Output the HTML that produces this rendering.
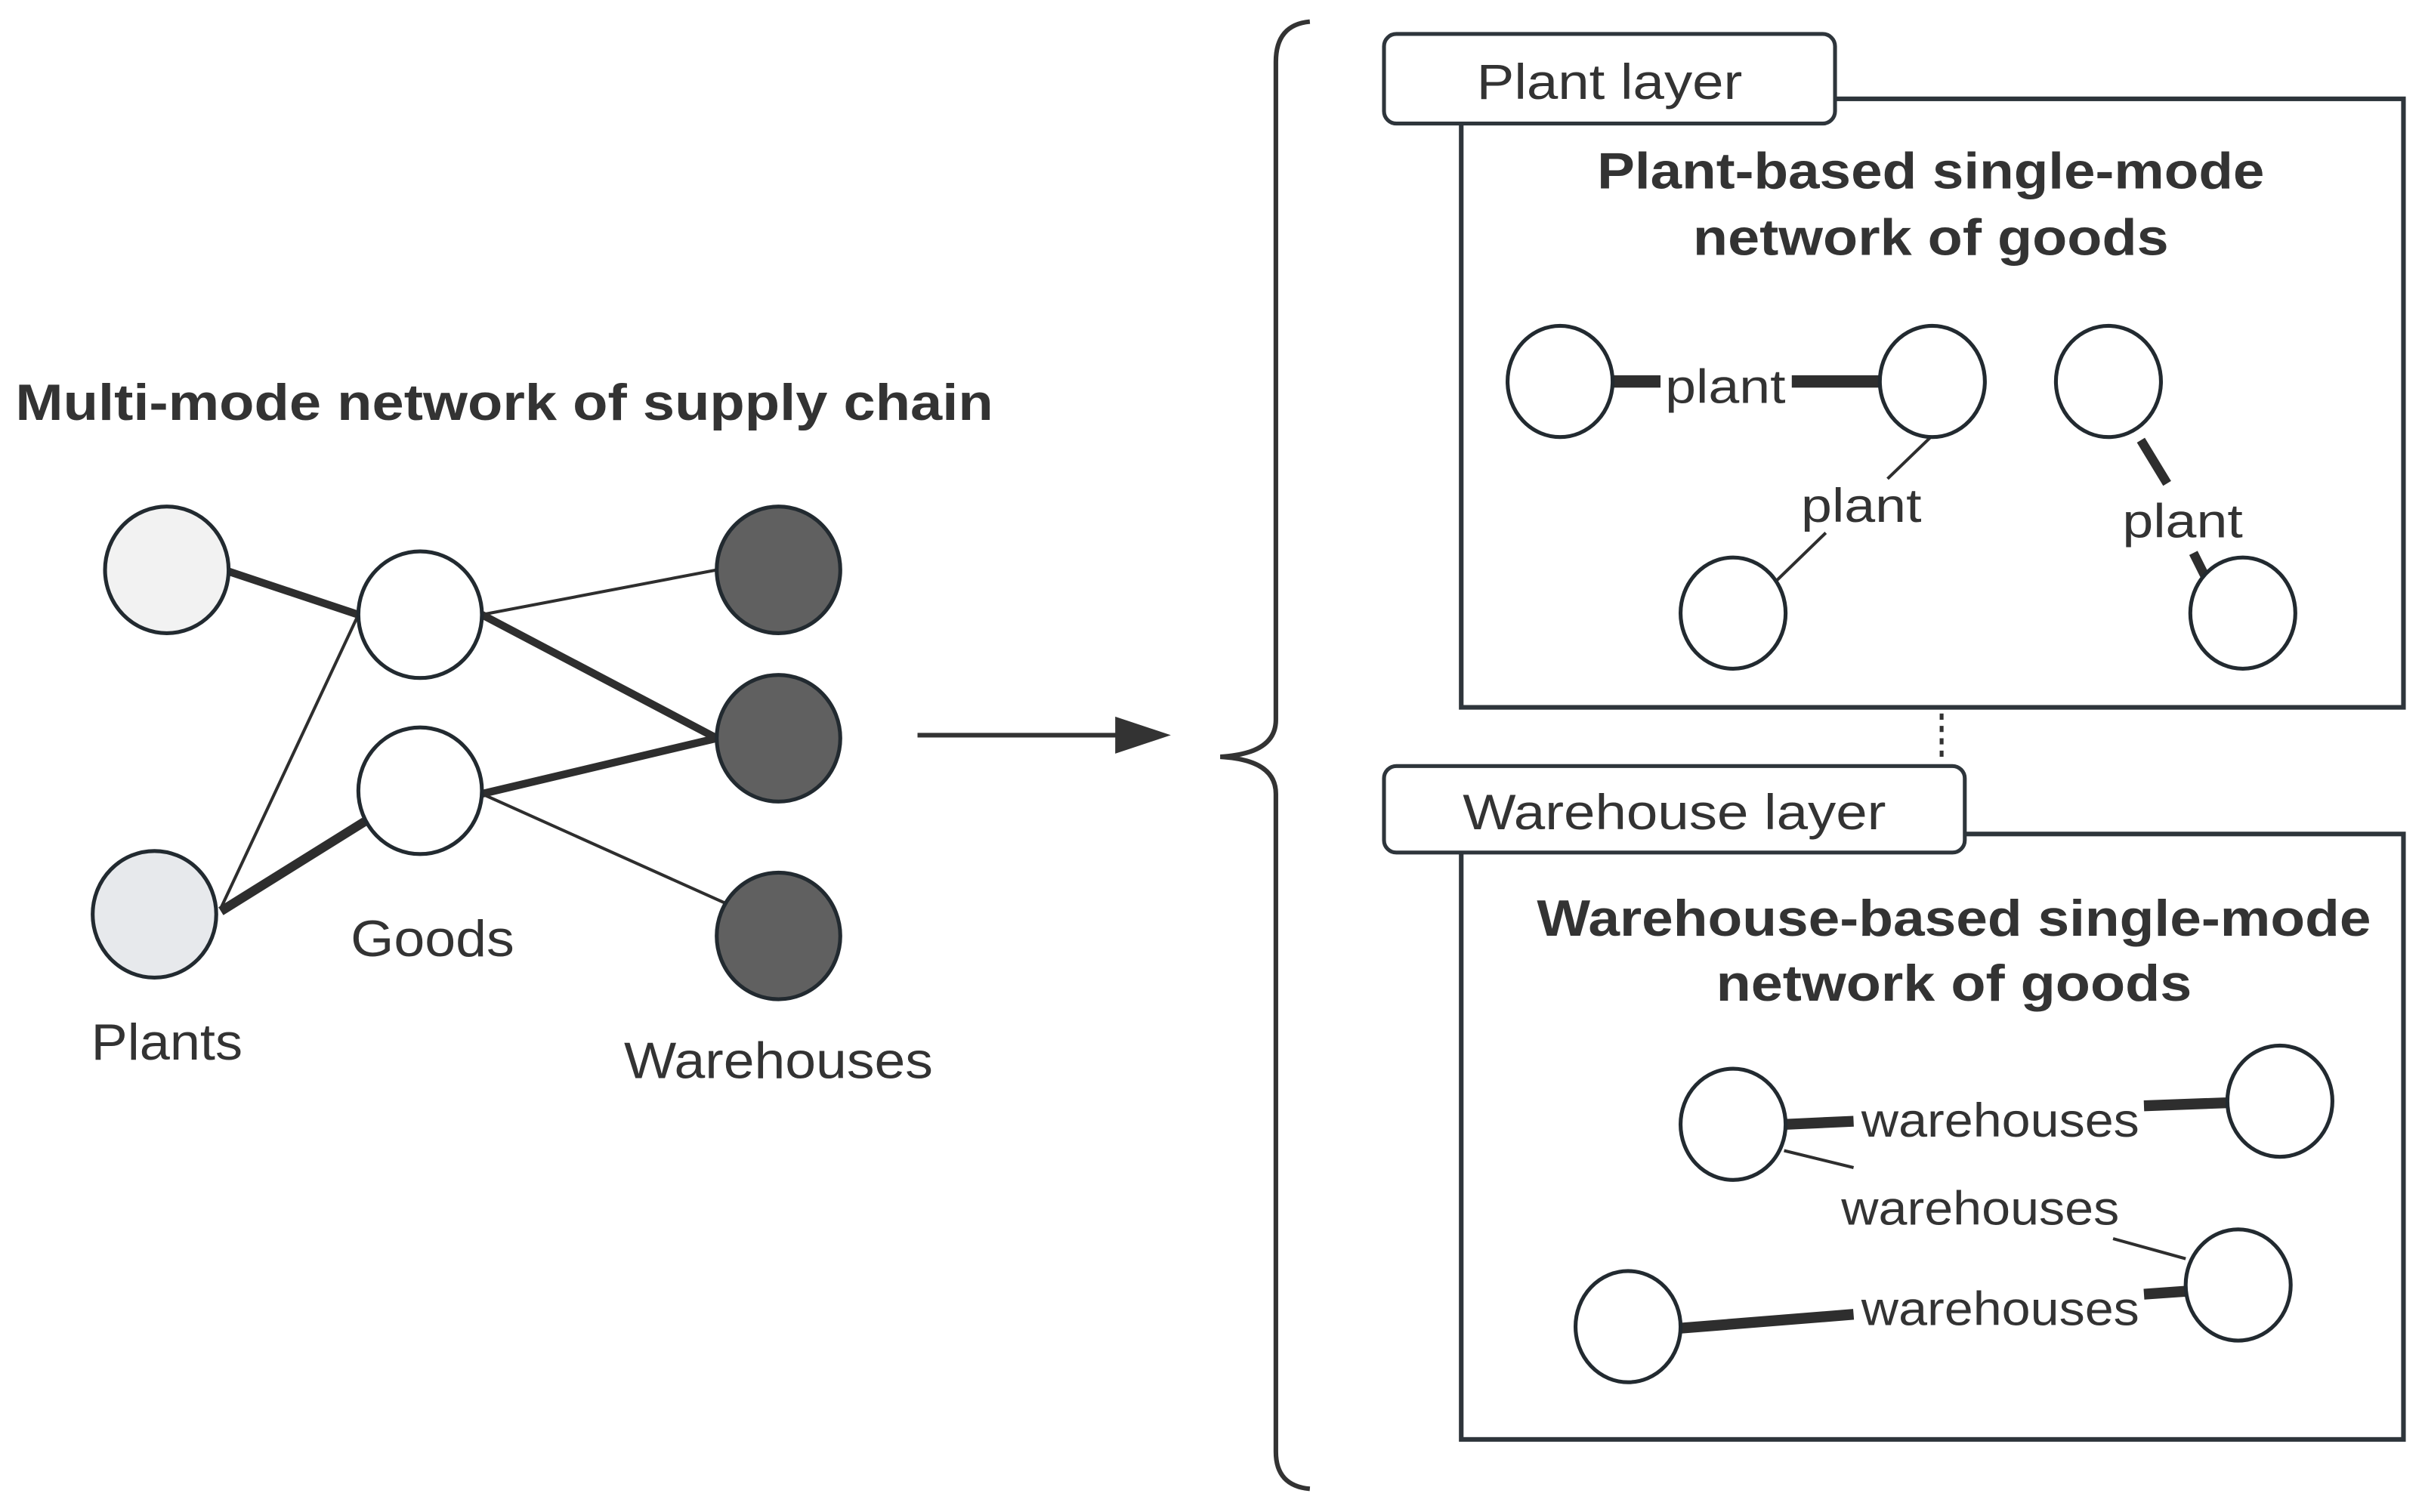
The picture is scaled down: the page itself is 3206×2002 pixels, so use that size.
<!DOCTYPE html>
<html><head><meta charset="utf-8"><style>
html,body{margin:0;padding:0;background:#fff;}
svg{display:block;}
text{font-family:"Liberation Sans",sans-serif;fill:#333;}
</style></head><body>
<svg width="3206" height="2002" viewBox="0 0 1568 979" preserveAspectRatio="none" xmlns="http://www.w3.org/2000/svg">
<g stroke="#2e2e2e" stroke-linecap="butt" fill="none">
<line x1="148" y1="370" x2="232" y2="398" stroke-width="5"/>
<line x1="143" y1="588" x2="232" y2="398" stroke-width="2"/>
<line x1="143" y1="590" x2="236" y2="532" stroke-width="6"/>
<line x1="312" y1="398" x2="464" y2="369" stroke-width="2"/>
<line x1="312" y1="398" x2="464" y2="478" stroke-width="5"/>
<line x1="312" y1="514" x2="464" y2="478" stroke-width="5"/>
<line x1="312" y1="514" x2="470" y2="585" stroke-width="2"/>
</g>
<g stroke="#222a30" stroke-width="2.5">
<ellipse cx="108" cy="369" rx="40" ry="41" fill="#f2f2f2"/>
<ellipse cx="100" cy="592" rx="40" ry="41" fill="#e7e9ec"/>
<ellipse cx="272" cy="398" rx="40" ry="41" fill="#fff"/>
<ellipse cx="272" cy="512" rx="40" ry="41" fill="#fff"/>
<ellipse cx="504" cy="369" rx="40" ry="41" fill="#606060"/>
<ellipse cx="504" cy="478" rx="40" ry="41" fill="#606060"/>
<ellipse cx="504" cy="606" rx="40" ry="41" fill="#606060"/>
</g>
<text x="10" y="272" font-size="33" font-weight="bold" textLength="633" lengthAdjust="spacingAndGlyphs">Multi-mode network of supply chain</text>
<text x="280" y="619" font-size="33" text-anchor="middle" textLength="106" lengthAdjust="spacingAndGlyphs">Goods</text>
<text x="108" y="686" font-size="33" text-anchor="middle" textLength="98" lengthAdjust="spacingAndGlyphs">Plants</text>
<text x="504" y="698" font-size="33" text-anchor="middle" textLength="200" lengthAdjust="spacingAndGlyphs">Warehouses</text>
<line x1="594" y1="476" x2="726" y2="476" stroke="#333" stroke-width="3"/>
<polygon points="722,464 758,476 722,488" fill="#333"/>
<path d="M848,14 Q826,16 826,40 L826,466 Q826,488 790,490 Q826,492 826,514 L826,940 Q826,962 848,964" stroke="#333" stroke-width="3" fill="none"/>
<!-- Plant layer -->
<rect x="946" y="64" width="610" height="394" fill="#fff" stroke="#2e353b" stroke-width="3"/>
<rect x="896" y="22" width="292" height="58" rx="8" fill="#fff" stroke="#2e353b" stroke-width="2.5"/>
<text x="1042" y="64" font-size="32" text-anchor="middle" textLength="172" lengthAdjust="spacingAndGlyphs">Plant layer</text>
<text x="1250" y="122" font-size="33" font-weight="bold" text-anchor="middle" textLength="432" lengthAdjust="spacingAndGlyphs">Plant-based single-mode</text>
<text x="1250" y="165" font-size="33" font-weight="bold" text-anchor="middle" textLength="308" lengthAdjust="spacingAndGlyphs">network of goods</text>
<g stroke="#2e2e2e" fill="none">
<line x1="1044" y1="247" x2="1075" y2="247" stroke-width="8"/>
<line x1="1160" y1="247" x2="1218" y2="247" stroke-width="8"/>
<line x1="1251" y1="282" x2="1222" y2="310" stroke-width="2"/>
<line x1="1182" y1="345" x2="1148" y2="378" stroke-width="2"/>
<line x1="1386" y1="285" x2="1403" y2="313" stroke-width="6"/>
<line x1="1420" y1="358" x2="1428" y2="374" stroke-width="6"/>
</g>
<g stroke="#222a30" stroke-width="2.5" fill="#fff">
<ellipse cx="1010" cy="247" rx="34" ry="36"/>
<ellipse cx="1251" cy="247" rx="34" ry="36"/>
<ellipse cx="1365" cy="247" rx="34" ry="36"/>
<ellipse cx="1122" cy="397" rx="34" ry="36"/>
<ellipse cx="1452" cy="397" rx="34" ry="36"/>
</g>
<text x="1117" y="261" font-size="31" text-anchor="middle" textLength="78" lengthAdjust="spacingAndGlyphs">plant</text>
<text x="1205" y="338" font-size="31" text-anchor="middle" textLength="78" lengthAdjust="spacingAndGlyphs">plant</text>
<text x="1413" y="348" font-size="31" text-anchor="middle" textLength="78" lengthAdjust="spacingAndGlyphs">plant</text>
<line x1="1257" y1="462" x2="1257" y2="490" stroke="#333" stroke-width="2.5" stroke-dasharray="4,4"/>
<!-- Warehouse layer -->
<rect x="946" y="540" width="610" height="392" fill="#fff" stroke="#2e353b" stroke-width="3"/>
<rect x="896" y="496" width="376" height="56" rx="8" fill="#fff" stroke="#2e353b" stroke-width="2.5"/>
<text x="1084" y="537" font-size="32" text-anchor="middle" textLength="274" lengthAdjust="spacingAndGlyphs">Warehouse layer</text>
<text x="1265" y="606" font-size="33" font-weight="bold" text-anchor="middle" textLength="540" lengthAdjust="spacingAndGlyphs">Warehouse-based single-mode</text>
<text x="1265" y="648" font-size="33" font-weight="bold" text-anchor="middle" textLength="308" lengthAdjust="spacingAndGlyphs">network of goods</text>
<g stroke="#2e2e2e" fill="none">
<line x1="1156" y1="728" x2="1200" y2="726" stroke-width="7"/>
<line x1="1388" y1="716" x2="1442" y2="714" stroke-width="7"/>
<line x1="1155" y1="745" x2="1200" y2="756" stroke-width="2"/>
<line x1="1368" y1="802" x2="1415" y2="815" stroke-width="2"/>
<line x1="1088" y1="860" x2="1200" y2="851" stroke-width="7"/>
<line x1="1388" y1="838" x2="1416" y2="836" stroke-width="7"/>
</g>
<g stroke="#222a30" stroke-width="2.5" fill="#fff">
<ellipse cx="1122" cy="728" rx="34" ry="36"/>
<ellipse cx="1476" cy="713" rx="34" ry="36"/>
<ellipse cx="1054" cy="859" rx="34" ry="36"/>
<ellipse cx="1449" cy="832" rx="34" ry="36"/>
</g>
<text x="1295" y="736" font-size="31" text-anchor="middle" textLength="180" lengthAdjust="spacingAndGlyphs">warehouses</text>
<text x="1282" y="793" font-size="31" text-anchor="middle" textLength="180" lengthAdjust="spacingAndGlyphs">warehouses</text>
<text x="1295" y="858" font-size="31" text-anchor="middle" textLength="180" lengthAdjust="spacingAndGlyphs">warehouses</text>
</svg>
</body></html>
